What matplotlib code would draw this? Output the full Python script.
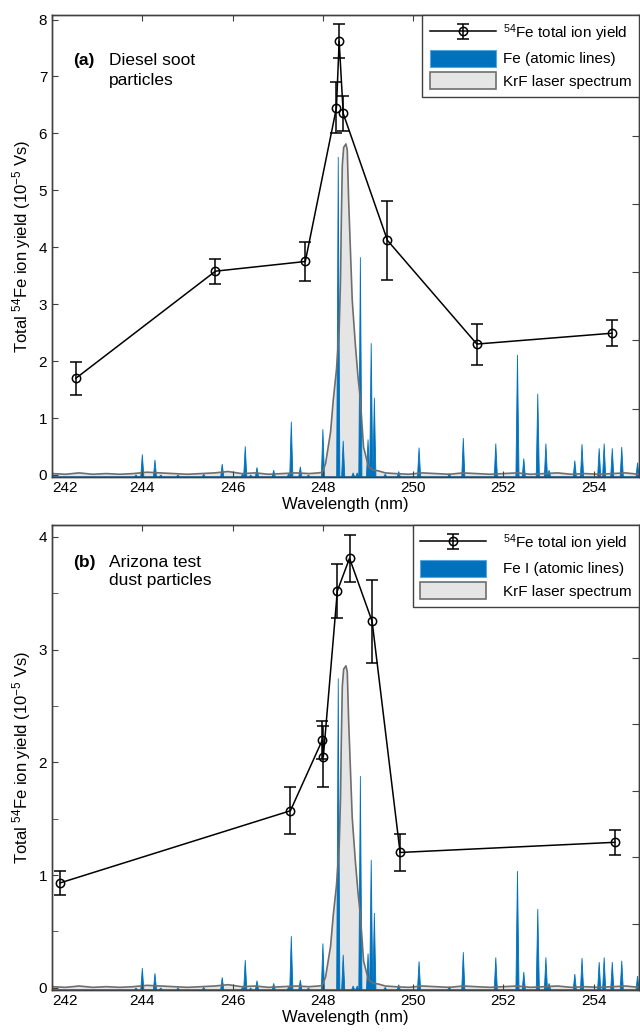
import matplotlib
matplotlib.use("Agg")
import matplotlib.pyplot as plt
import matplotlib.patches as mpatches
import numpy as np

plt.rcParams["font.family"] = ["Liberation Sans", "DejaVu Sans"]
plt.rcParams["mathtext.fontset"] = "custom"
plt.rcParams["mathtext.rm"] = "Liberation Sans"
plt.rcParams["mathtext.default"] = "regular"

FE_BLUE = "#0072BD"
FRAME = "#404040"

# ion yield, panel (a) diesel soot
soot_wl = [242.53, 245.62, 247.61, 248.30, 248.36, 248.45, 249.43, 251.41, 254.40]
soot_yield = [1.70, 3.58, 3.75, 6.45, 7.62, 6.35, 4.12, 2.30, 2.49]
soot_err = [0.29, 0.22, 0.34, 0.45, 0.30, 0.30, 0.70, 0.36, 0.23]

# ion yield, panel (b) arizona test dust
dust_wl = [242.18, 247.28, 247.99, 248.01, 248.32, 248.59, 249.09, 249.71, 254.46]
dust_yield = [0.93, 1.57, 2.20, 2.05, 3.52, 3.81, 3.25, 1.20, 1.29]
dust_err = [0.11, 0.21, 0.17, 0.27, 0.24, 0.21, 0.37, 0.16, 0.11]

# Fe atomic lines (arb. units, right axis)
line_wl = [243.86, 244.00, 244.28, 244.41, 244.79, 245.36, 245.77, 246.22, 246.28,
           246.40, 246.54, 246.91, 247.24, 247.30, 247.50, 247.68, 248.00, 248.34,
           248.45, 248.67, 248.76, 248.83, 249.00, 249.07, 249.14, 249.38, 249.68,
           250.13, 250.80, 251.11, 251.83, 252.31, 252.45, 252.76, 252.94, 253.01,
           253.58, 253.74, 254.12, 254.23, 254.41, 254.62, 254.97]
line_int = [0.03, 0.33, 0.25, 0.03, 0.03, 0.04, 0.19, 0.04, 0.45,
            0.03, 0.14, 0.10, 0.04, 0.81, 0.15, 0.03, 0.70, 4.69,
            0.53, 0.06, 0.06, 3.22, 0.55, 1.96, 1.16, 0.04, 0.08,
            0.43, 0.05, 0.57, 0.49, 1.79, 0.27, 1.22, 0.49, 0.10,
            0.24, 0.48, 0.42, 0.49, 0.42, 0.44, 0.21]

# KrF laser spectrum (arb. units, right axis)
laser_wl = [242.0, 242.3, 242.6, 242.9, 243.2, 243.5, 243.8, 244.1, 244.4, 244.7,
            245.0, 245.3, 245.6, 245.9, 246.2, 246.5, 246.8, 247.1, 247.4, 247.7,
            247.90, 247.99, 248.06, 248.17, 248.23, 248.30, 248.36, 248.39, 248.41,
            248.43, 248.46, 248.51, 248.54, 248.57, 248.61, 248.65, 248.72, 248.78,
            248.83, 248.90, 249.01, 249.12, 249.23, 249.38,
            249.6, 249.9, 250.2, 250.5, 250.8, 251.1, 251.4, 251.7, 252.0, 252.3,
            252.6, 252.9, 253.2, 253.5, 253.8, 254.1, 254.4, 254.7, 255.0]
laser_int = [0.05, 0.04, 0.06, 0.04, 0.05, 0.04, 0.05, 0.07, 0.06, 0.05,
             0.04, 0.05, 0.06, 0.08, 0.05, 0.06, 0.04, 0.05, 0.06, 0.05,
             0.06, 0.07, 0.20, 0.66, 1.13, 1.57, 2.15, 2.88, 3.84,
             4.57, 4.83, 4.88, 4.79, 4.06, 3.32, 2.59, 1.93, 1.45,
             1.13, 0.44, 0.15, 0.10, 0.09, 0.06,
             0.05, 0.04, 0.06, 0.05, 0.04, 0.06, 0.05, 0.04, 0.05, 0.06,
             0.04, 0.05, 0.06, 0.04, 0.05, 0.04, 0.05, 0.06, 0.04]

x_ticks = [242, 244, 246, 248, 250, 252, 254]


def draw_panel(ax, *, wl, yld, err, ylim, yticks, yminor, right_top, tag, desc, text_y,
               lines_label, text_pad):
    ax2 = ax.twinx()
    ax.set_zorder(ax2.get_zorder() + 1)
    ax.patch.set_visible(False)

    # spectra on the hidden right axis
    ax2.fill_between(laser_wl, 0, laser_int, facecolor="#e5e5e5", edgecolor="none", zorder=1)
    half = 0.035
    for lam, h in zip(line_wl, line_int):
        ax2.fill([lam - half, lam, lam + half], [0, h, 0], facecolor=FE_BLUE,
                 edgecolor=FE_BLUE, lw=0.6, zorder=2)
    ax2.plot(laser_wl, laser_int, color="#6e6e6e", lw=1.2, zorder=3)
    ax2.axhline(0, color=FE_BLUE, lw=1.8, zorder=2)
    ax2.set_ylim(0, right_top)
    ax2.set_yticks(range(1, 7))
    ax2.tick_params(axis="y", direction="in", length=5, labelright=False, color=FRAME)

    eb = ax.errorbar(wl, yld, yerr=err, fmt="-o", color="k", mfc="none", ms=6, mew=1.1,
                     lw=1.1, elinewidth=1.1, capsize=4.5, capthick=1.1, zorder=5)

    ax.set_xlim(242, 255)
    ax.set_ylim(*ylim)
    ax.set_xticks(x_ticks)
    ax.set_xticklabels([str(t) for t in x_ticks])
    ax.get_xticklabels()[0].set_horizontalalignment("left")
    ax.set_yticks(yticks)
    if yminor:
        ax.set_yticks(yminor, minor=True)
    ax.tick_params(axis="both", which="both", direction="in", length=4.5, labelsize=11,
                   color=FRAME, top=True, right=False)
    ax.tick_params(axis="x", pad=3)
    for spine in list(ax.spines.values()) + list(ax2.spines.values()):
        spine.set_color(FRAME)
        spine.set_linewidth(1.0)

    ax.set_xlabel("Wavelength (nm)", fontsize=12, labelpad=1)
    ax.set_ylabel(r"Total $^{54}$Fe ion yield (10$^{-5}$ Vs)", fontsize=12, labelpad=4)

    ax.text(0.036, text_y[0], tag, transform=ax.transAxes, fontsize=12.5,
            fontweight="bold", va="baseline")
    ax.text(0.097, text_y[0], desc[0], transform=ax.transAxes, fontsize=12.5, va="baseline")
    ax.text(0.097, text_y[1], desc[1], transform=ax.transAxes, fontsize=12.5, va="baseline")

    handles = [
        eb,
        mpatches.Patch(facecolor=FE_BLUE, edgecolor="#5aa6dc", lw=0.8),
        mpatches.Patch(facecolor="#e5e5e5", edgecolor="#6e6e6e", lw=1.2),
    ]
    labels = [r"$^{54}$Fe total ion yield", lines_label, "KrF laser spectrum"]
    leg = ax.legend(handles, labels, loc="upper right", bbox_to_anchor=(1, 1),
                    borderaxespad=0, fancybox=False, framealpha=1, edgecolor=FRAME,
                    fontsize=11, handlelength=4.3, handleheight=1.35,
                    handletextpad=text_pad, borderpad=0.5, labelspacing=0.35)
    leg.get_frame().set_linewidth(1.0)
    leg.set_zorder(10)


fig = plt.figure(figsize=(6.4, 10.32), dpi=100)
ax_a = fig.add_axes([0.0813, 0.5378, 0.917, 0.4477])
ax_b = fig.add_axes([0.0813, 0.0407, 0.917, 0.4506])

draw_panel(ax_a, wl=soot_wl, yld=soot_yield, err=soot_err, ylim=(-0.035, 8.08),
           yticks=range(0, 9), yminor=None, right_top=6.77, tag="(a)",
           desc=("Diesel soot", "particles"), text_y=(0.892, 0.848),
           lines_label="Fe (atomic lines)", text_pad=0.45)
draw_panel(ax_b, wl=dust_wl, yld=dust_yield, err=dust_err, ylim=(-0.02, 4.105),
           yticks=range(0, 5), yminor=[0.5, 1.5, 2.5, 3.5], right_top=7.0, tag="(b)",
           desc=("Arizona test", "dust particles"), text_y=(0.910, 0.871),
           lines_label="Fe I (atomic lines)", text_pad=1.1)

fig.savefig("out.png", dpi=100)
